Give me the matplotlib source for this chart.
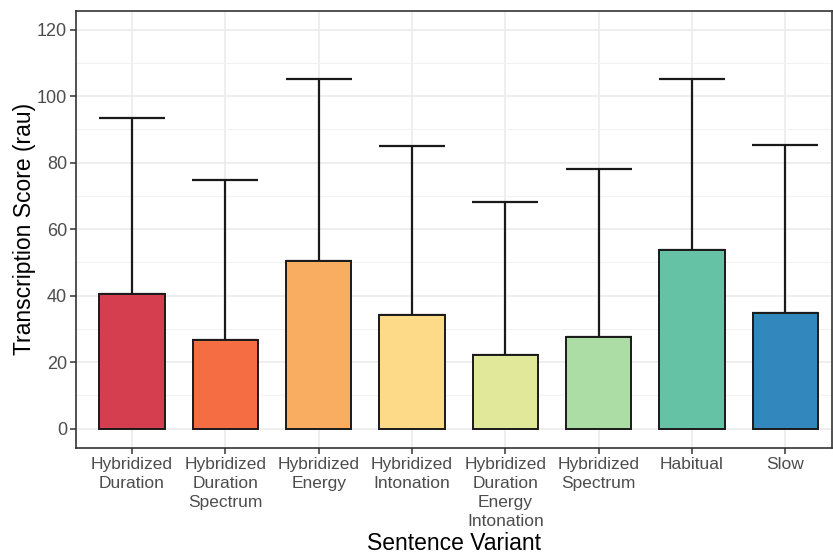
import matplotlib
matplotlib.use("Agg")
import matplotlib.pyplot as plt
from matplotlib.ticker import MultipleLocator

plt.rcParams['font.family'] = ['Liberation Sans', 'DejaVu Sans']

categories = ["Hybridized\nDuration", "Hybridized\nDuration\nSpectrum", "Hybridized\nEnergy",
              "Hybridized\nIntonation", "Hybridized\nDuration\nEnergy\nIntonation",
              "Hybridized\nSpectrum", "Habitual", "Slow"]
means = [40.5, 26.6, 50.4, 34.1, 22.1, 27.5, 53.8, 34.8]
upper = [93.5, 74.8, 105.2, 85.1, 68.2, 78.0, 105.2, 85.4]
colors = ["#D53E4F", "#F46D43", "#F9AD61", "#FCDA87", "#E2E899", "#ABDDA4", "#66C2A5", "#3288BD"]
yticks = [0, 20, 40, 60, 80, 100, 120]

fig = plt.figure(figsize=(8.33, 5.55), dpi=100)
W, H = 833, 555
ax = fig.add_axes([76 / W, 1 - 448 / H, (832 - 76) / W, (448 - 10.5) / H])

x = list(range(1, len(categories) + 1))
errs = [u - m for u, m in zip(upper, means)]
ax.errorbar(x, means, yerr=[[0] * len(x), errs], fmt='none', ecolor='#1a1a1a',
            elinewidth=1.6, capsize=23.5, capthick=1.6, zorder=2)
ax.bar(x, means, width=0.7, color=colors, edgecolor='#1a1a1a', linewidth=1.4, zorder=3)

ax.set_xlim(0.4, 8.5)
ax.set_ylim(-5.85, 125.8)
ax.set_xticks(x)
ax.set_xticklabels(categories, fontsize=12.5, color='#4d4d4d', linespacing=1.33, va='top')
ax.set_yticks(yticks)
ax.set_yticklabels([str(t) for t in yticks], fontsize=13, color='#4d4d4d')
ax.yaxis.set_minor_locator(MultipleLocator(10))
ax.tick_params(axis='both', which='major', length=4, width=1.1, color='#333333', pad=2.5)
ax.tick_params(axis='y', which='minor', length=0)
ax.grid(True, which='major', color='#ebebeb', linewidth=1.2, zorder=0)
ax.grid(True, which='minor', axis='y', color='#f2f2f2', linewidth=0.8, zorder=0)
ax.set_axisbelow(True)
for s in ax.spines.values():
    s.set_color('#333333')
    s.set_linewidth(1.2)

ax.set_ylabel("Transcription Score (rau)", fontsize=16.5, color='black', labelpad=0.5)
ax.set_xlabel("Sentence Variant", fontsize=16.5, color='black', labelpad=2)

fig.savefig("out.png", dpi=100)
